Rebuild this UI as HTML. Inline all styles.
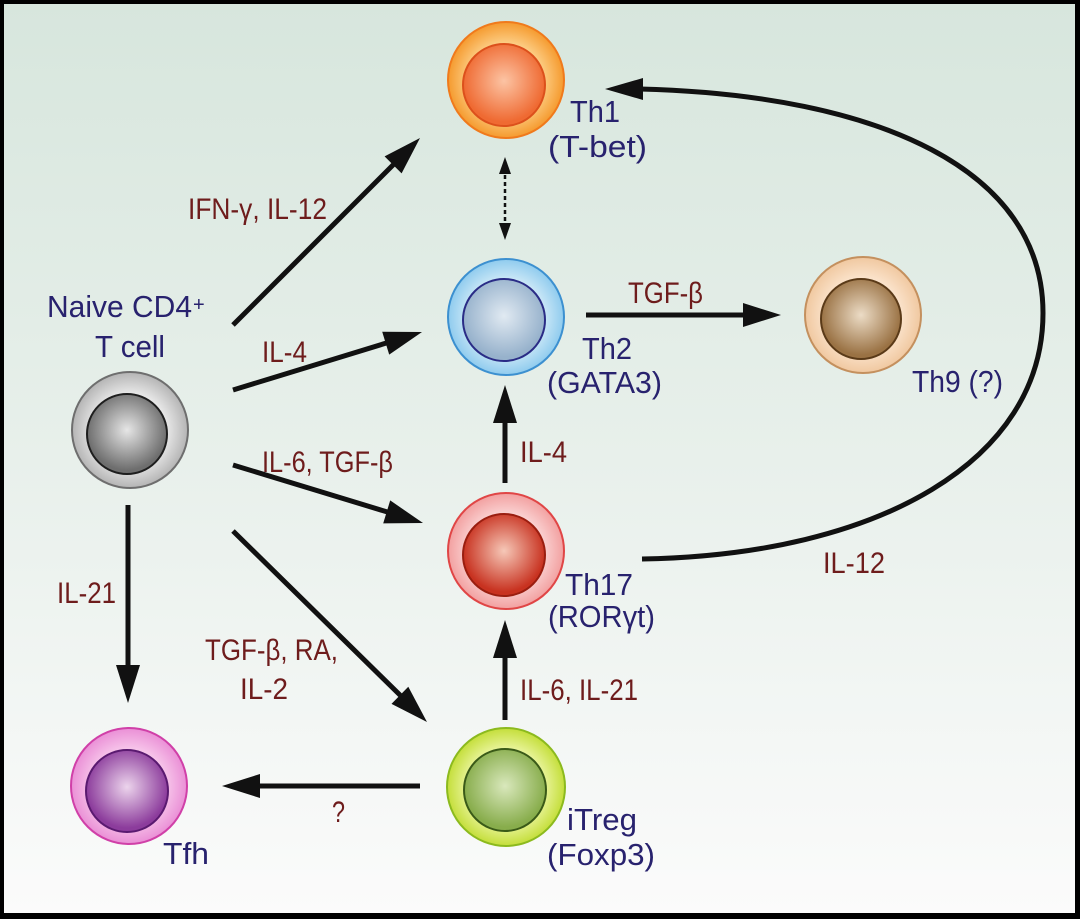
<!DOCTYPE html>
<html>
<head>
<meta charset="utf-8">
<style>
  html, body { margin:0; padding:0; background:#000; }
  body { width:1080px; height:919px; overflow:hidden; }
  svg { display:block; }
  .cell { font-family:"Liberation Sans", "DejaVu Sans", sans-serif; font-size:31px; fill:#28226e; }
  .cyt { font-family:"Liberation Sans", "DejaVu Sans", sans-serif; font-size:30px; fill:#6e1c1c; }
</style>
</head>
<body>
<svg width="1080" height="919" viewBox="0 0 1080 919" xmlns="http://www.w3.org/2000/svg">
  <defs>
    <linearGradient id="bg" x1="0" y1="0" x2="0" y2="1">
      <stop offset="0" stop-color="#d7e6dd"/>
      <stop offset="0.5" stop-color="#e8f0eb"/>
      <stop offset="1" stop-color="#fbfbfb"/>
    </linearGradient>
    <radialGradient id="o1"><stop offset="0.6" stop-color="#fdd28c"/><stop offset="1" stop-color="#f59a2e"/></radialGradient>
    <radialGradient id="i1" cx="0.5" cy="0.45"><stop offset="0" stop-color="#fcc4a4"/><stop offset="1" stop-color="#ef6a32"/></radialGradient>
    <radialGradient id="o2"><stop offset="0.6" stop-color="#d4ecf8"/><stop offset="1" stop-color="#8fcbee"/></radialGradient>
    <radialGradient id="i2" cx="0.5" cy="0.45"><stop offset="0" stop-color="#e1eaf2"/><stop offset="1" stop-color="#97b2cc"/></radialGradient>
    <radialGradient id="o3"><stop offset="0.6" stop-color="#fbd8d8"/><stop offset="1" stop-color="#f2a0a0"/></radialGradient>
    <radialGradient id="i3" cx="0.5" cy="0.45"><stop offset="0" stop-color="#f6c8b8"/><stop offset="1" stop-color="#c83220"/></radialGradient>
    <radialGradient id="o4"><stop offset="0.6" stop-color="#eef7a8"/><stop offset="1" stop-color="#c4de3a"/></radialGradient>
    <radialGradient id="i4" cx="0.5" cy="0.45"><stop offset="0" stop-color="#d9e8bc"/><stop offset="1" stop-color="#88ad4c"/></radialGradient>
    <radialGradient id="o5"><stop offset="0.6" stop-color="#f8cbec"/><stop offset="1" stop-color="#ea8fd6"/></radialGradient>
    <radialGradient id="i5" cx="0.5" cy="0.45"><stop offset="0" stop-color="#ecd4ec"/><stop offset="1" stop-color="#8c3c9c"/></radialGradient>
    <radialGradient id="o6"><stop offset="0.6" stop-color="#fce6d0"/><stop offset="1" stop-color="#f0c8a0"/></radialGradient>
    <radialGradient id="i6" cx="0.5" cy="0.45"><stop offset="0" stop-color="#ecdcc6"/><stop offset="1" stop-color="#9a7244"/></radialGradient>
    <radialGradient id="o7"><stop offset="0.6" stop-color="#ececec"/><stop offset="1" stop-color="#b4b4b4"/></radialGradient>
    <radialGradient id="i7" cx="0.5" cy="0.45"><stop offset="0" stop-color="#e6e6e6"/><stop offset="1" stop-color="#6e6e6e"/></radialGradient>
  </defs>

  <rect x="0" y="0" width="1080" height="919" fill="#000"/>
  <rect x="4" y="4" width="1071" height="909" fill="url(#bg)"/>

  <g>
    <circle cx="506" cy="80" r="58" fill="url(#o1)" stroke="#f07a1c" stroke-width="2"/>
    <circle cx="504" cy="85" r="41" fill="url(#i1)" stroke="#dc501c" stroke-width="2"/>

    <circle cx="506" cy="317" r="58" fill="url(#o2)" stroke="#3c90d0" stroke-width="2"/>
    <circle cx="504" cy="320" r="41" fill="url(#i2)" stroke="#2a2c86" stroke-width="2"/>

    <circle cx="506" cy="551" r="58" fill="url(#o3)" stroke="#e04646" stroke-width="2"/>
    <circle cx="504" cy="555" r="41" fill="url(#i3)" stroke="#9a1e10" stroke-width="2"/>

    <circle cx="506" cy="787" r="59" fill="url(#o4)" stroke="#8cba1e" stroke-width="2"/>
    <circle cx="505" cy="790" r="41" fill="url(#i4)" stroke="#3a5a18" stroke-width="2"/>

    <circle cx="129" cy="786" r="58" fill="url(#o5)" stroke="#d040a8" stroke-width="2"/>
    <circle cx="127" cy="791" r="41" fill="url(#i5)" stroke="#5a1a70" stroke-width="2"/>

    <circle cx="863" cy="315" r="58" fill="url(#o6)" stroke="#c4905e" stroke-width="2"/>
    <circle cx="861" cy="319" r="40" fill="url(#i6)" stroke="#5a3a18" stroke-width="2"/>

    <circle cx="130" cy="430" r="58" fill="url(#o7)" stroke="#6e6e6e" stroke-width="2"/>
    <circle cx="127" cy="434" r="40" fill="url(#i7)" stroke="#1e1e1e" stroke-width="2"/>
  </g>

  <g stroke="#111" stroke-width="5" fill="none" stroke-linecap="butt">
    <line x1="233" y1="325" x2="395" y2="163"/>
    <line x1="233" y1="390" x2="388" y2="342.5"/>
    <line x1="233" y1="465" x2="389" y2="512.5"/>
    <line x1="233" y1="531" x2="402" y2="697"/>
    <line x1="128" y1="505" x2="128" y2="667"/>
    <line x1="420" y1="786" x2="258" y2="786"/>
    <line x1="505" y1="483" x2="505" y2="421"/>
    <line x1="505" y1="720" x2="505" y2="656"/>
    <line x1="586" y1="315" x2="745" y2="315"/>
    <path d="M642 559 C880 555 1043 460 1043 313 C1043 170 880 95 640 89"/>
  </g>
  <g fill="#111">
    <polygon points="420,138 401.6,173.4 384.6,156.4"/>
    <polygon points="422,332 389.2,354.6 382.2,331.7"/>
    <polygon points="423,523 383.2,523.4 390.2,500.4"/>
    <polygon points="427,722 391.5,703.9 408.3,686.7"/>
    <polygon points="128,703 116,665 140,665"/>
    <polygon points="222,786 260,774 260,798"/>
    <polygon points="505,385 493,423 517,423"/>
    <polygon points="505,620 493,658 517,658"/>
    <polygon points="781,315 743,303 743,327"/>
    <polygon points="605,89 643,78 643,100"/>
    <polygon points="505,157 499,174 511,174"/>
    <polygon points="505,240 499,223 511,223"/>
  </g>
  <line x1="505" y1="175" x2="505" y2="223" stroke="#111" stroke-width="2.5" stroke-dasharray="4 3"/>

  <g>
    <text class="cell" x="570" y="122" textLength="50" lengthAdjust="spacingAndGlyphs">Th1</text>
    <text class="cell" x="548" y="157" textLength="99" lengthAdjust="spacingAndGlyphs">(T-bet)</text>
    <text class="cell" x="582" y="359" textLength="50" lengthAdjust="spacingAndGlyphs">Th2</text>
    <text class="cell" x="547" y="393" textLength="115" lengthAdjust="spacingAndGlyphs">(GATA3)</text>
    <text class="cell" x="565" y="595" textLength="68" lengthAdjust="spacingAndGlyphs">Th17</text>
    <text class="cell" x="548" y="627" textLength="107" lengthAdjust="spacingAndGlyphs">(RORγt)</text>
    <text class="cell" x="567" y="830" textLength="70" lengthAdjust="spacingAndGlyphs">iTreg</text>
    <text class="cell" x="547" y="865" textLength="108" lengthAdjust="spacingAndGlyphs">(Foxp3)</text>
    <text class="cell" x="163" y="864" textLength="46" lengthAdjust="spacingAndGlyphs">Tfh</text>
    <text class="cell" x="912" y="392" textLength="91" lengthAdjust="spacingAndGlyphs">Th9 (?)</text>
    <text class="cell" x="47" y="317" textLength="145" lengthAdjust="spacingAndGlyphs">Naive CD4</text>
    <text class="cell" x="193" y="311" style="font-size:20px">+</text>
    <text class="cell" x="95" y="357" textLength="70" lengthAdjust="spacingAndGlyphs">T cell</text>
  </g>

  <g>
    <text class="cyt" x="188" y="219" textLength="139" lengthAdjust="spacingAndGlyphs">IFN-γ, IL-12</text>
    <text class="cyt" x="262" y="362" textLength="45" lengthAdjust="spacingAndGlyphs">IL-4</text>
    <text class="cyt" x="262" y="472" textLength="131" lengthAdjust="spacingAndGlyphs">IL-6, TGF-β</text>
    <text class="cyt" x="57" y="603" textLength="59" lengthAdjust="spacingAndGlyphs">IL-21</text>
    <text class="cyt" x="205" y="660" textLength="133" lengthAdjust="spacingAndGlyphs">TGF-β, RA,</text>
    <text class="cyt" x="240" y="699" textLength="48" lengthAdjust="spacingAndGlyphs">IL-2</text>
    <text class="cyt" x="332" y="822" textLength="13" lengthAdjust="spacingAndGlyphs">?</text>
    <text class="cyt" x="520" y="462" textLength="47" lengthAdjust="spacingAndGlyphs">IL-4</text>
    <text class="cyt" x="520" y="700" textLength="118" lengthAdjust="spacingAndGlyphs">IL-6, IL-21</text>
    <text class="cyt" x="628" y="303" textLength="75" lengthAdjust="spacingAndGlyphs">TGF-β</text>
    <text class="cyt" x="823" y="573" textLength="62" lengthAdjust="spacingAndGlyphs">IL-12</text>
  </g>
</svg>
</body>
</html>
